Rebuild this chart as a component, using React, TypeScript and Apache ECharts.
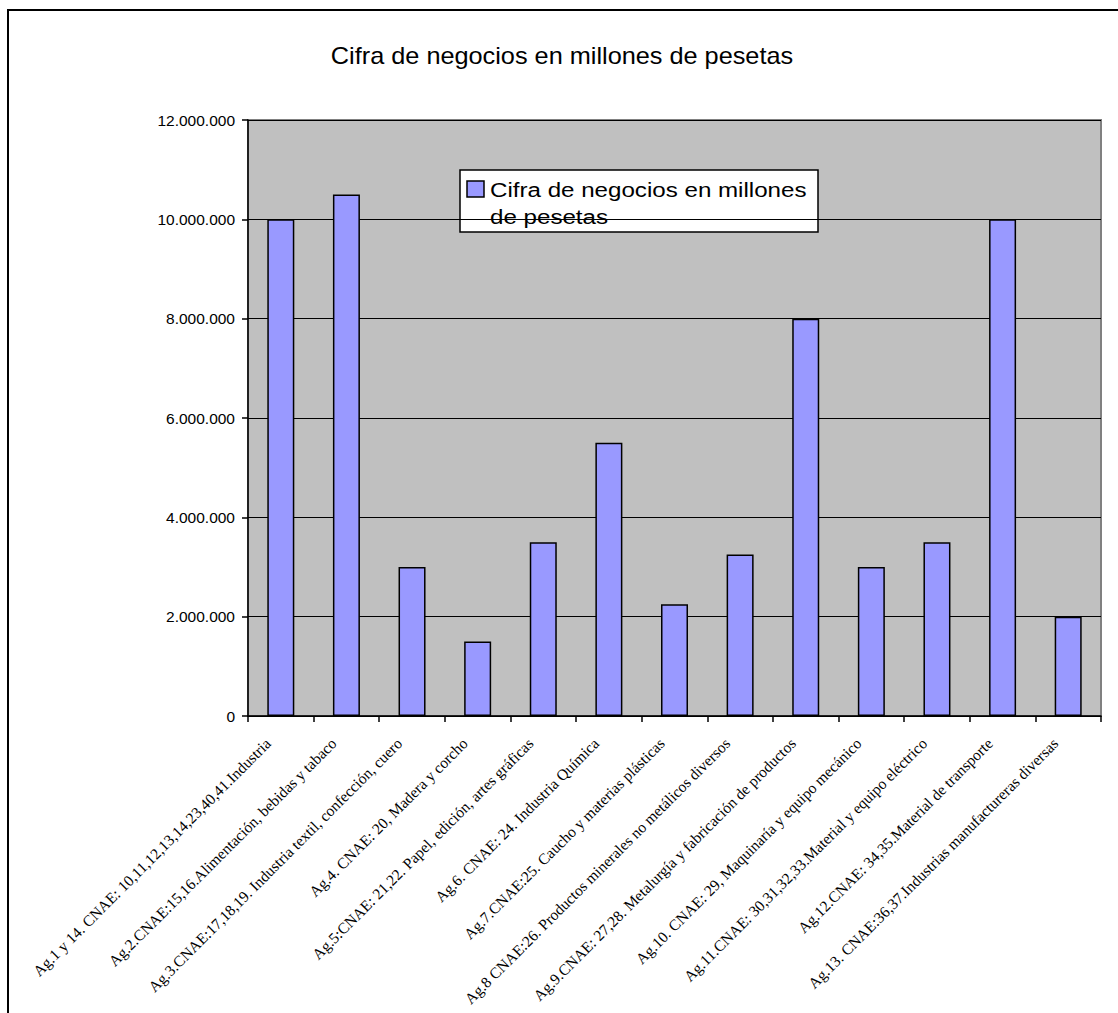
import React, { useEffect, useRef } from "react";
import * as echarts from "echarts";

const TITLE = "Cifra de negocios en millones de pesetas";
const SERIES_NAME = "Cifra de negocios en millones de pesetas";
const LEGEND_LINES = ["Cifra de negocios en millones", "de pesetas"];

const categories = [
  "Ag.1 y 14. CNAE: 10,11,12,13,14,23,40,41.Industria",
  "Ag.2.CNAE:15,16.Alimentación, bebidas y tabaco",
  "Ag.3.CNAE:17,18,19. Industria textil, confección, cuero",
  "Ag.4. CNAE: 20, Madera y corcho",
  "Ag.5:CNAE: 21,22. Papel, edición, artes gráficas",
  "Ag.6. CNAE: 24. Industria Química",
  "Ag.7.CNAE:25. Caucho y materias plásticas",
  "Ag.8 CNAE:26. Productos minerales no metálicos diversos",
  "Ag.9.CNAE: 27,28. Metalurgía y fabricación de productos",
  "Ag.10. CNAE: 29, Maquinaría y equipo mecánico",
  "Ag.11.CNAE: 30,31,32,33.Material y equipo eléctrico",
  "Ag.12.CNAE: 34,35.Material de transporte",
  "Ag.13. CNAE:36,37.Industrias manufactureras diversas",
];

const values = [
  10000000, 10500000, 3000000, 1500000, 3500000, 5500000, 2250000, 3250000,
  8000000, 3000000, 3500000, 10000000, 2000000,
];

const yMin = 0;
const yMax = 12000000;
const yInterval = 2000000;

const fmt = (v: number) =>
  String(Math.round(v)).replace(/\B(?=(\d{3})+(?!\d))/g, ".");

export default function App() {
  const ref = useRef<HTMLDivElement>(null);

  useEffect(() => {
    document.body.style.margin = "0";
    const chart = echarts.init(ref.current!, null, { renderer: "svg" });
    chart.setOption({
      animation: false,
      backgroundColor: "#ffffff",
      grid: {
        left: 248,
        top: 120,
        right: 17,
        bottom: 297,
        show: true,
        backgroundColor: "#C0C0C0",
        borderColor: "#808080",
        borderWidth: 2,
        containLabel: false,
        outerBoundsMode: "none",
      },
      xAxis: {
        type: "category",
        data: categories,
        boundaryGap: true,
        axisLine: { show: true, lineStyle: { color: "#000", width: 1.5 } },
        axisTick: {
          show: true,
          inside: false,
          length: 6,
          alignWithLabel: false,
          lineStyle: { color: "#000", width: 1.5 },
        },
        axisLabel: {
          interval: 0,
          rotate: 45,
          margin: 12,
          padding: [0, 18, 0, 0],
          fontFamily: "Liberation Serif",
          fontSize: 15.5,
          color: "#000",
        },
        splitLine: { show: false },
      },
      yAxis: {
        type: "value",
        min: yMin,
        max: yMax,
        interval: yInterval,
        axisLine: { show: true, lineStyle: { color: "#000", width: 1.5 } },
        axisTick: {
          show: true,
          inside: false,
          length: 6,
          lineStyle: { color: "#000", width: 1.5 },
        },
        axisLabel: {
          margin: 13,
          fontFamily: "Liberation Sans",
          fontSize: 15.5,
          color: "#000",
          formatter: (v: number) => fmt(v),
        },
        splitLine: { show: true, lineStyle: { color: "#000", width: 1.2 } },
      },
      series: [
        {
          name: SERIES_NAME,
          type: "bar",
          data: values,
          barWidth: 27,
          itemStyle: {
            color: "#9999FF",
            borderColor: "#000",
            borderWidth: 1.5,
          },
        },
      ],
      graphic: [
        {
          type: "line",
          shape: { x1: 8, y1: 9, x2: 8, y2: 1013 },
          style: { stroke: "#000", lineWidth: 2 },
          silent: true,
        },
        {
          type: "line",
          shape: { x1: 7, y1: 10, x2: 1118, y2: 10 },
          style: { stroke: "#000", lineWidth: 2 },
          silent: true,
        },
        {
          type: "text",
          x: 562,
          y: 56,
          scaleX: 1.1,
          style: {
            text: TITLE,
            fontFamily: "Liberation Sans",
            fontSize: 23,
            fill: "#000",
            align: "center",
            verticalAlign: "middle",
          },
        },
        {
          type: "group",
          children: [
            {
              type: "rect",
              shape: { x: 460, y: 170, width: 358, height: 62 },
              style: { fill: "#ffffff", stroke: "#000", lineWidth: 1.5 },
            },
            {
              type: "rect",
              shape: { x: 467, y: 181, width: 17, height: 16 },
              style: { fill: "#9999FF", stroke: "#000", lineWidth: 1.5 },
            },
            {
              type: "text",
              x: 490,
              y: 201,
              scaleX: 1.15,
              style: {
                text: LEGEND_LINES[0],
                fontFamily: "Liberation Sans",
                fontSize: 21,
                fill: "#000",
                align: "left",
                verticalAlign: "bottom",
              },
            },
            {
              type: "text",
              x: 490,
              y: 228,
              scaleX: 1.15,
              style: {
                text: LEGEND_LINES[1],
                fontFamily: "Liberation Sans",
                fontSize: 21,
                fill: "#000",
                align: "left",
                verticalAlign: "bottom",
              },
            },
          ],
        },
      ],
    });
    return () => chart.dispose();
  }, []);

  return <div ref={ref} style={{ width: 1118, height: 1013 }} />;
}
